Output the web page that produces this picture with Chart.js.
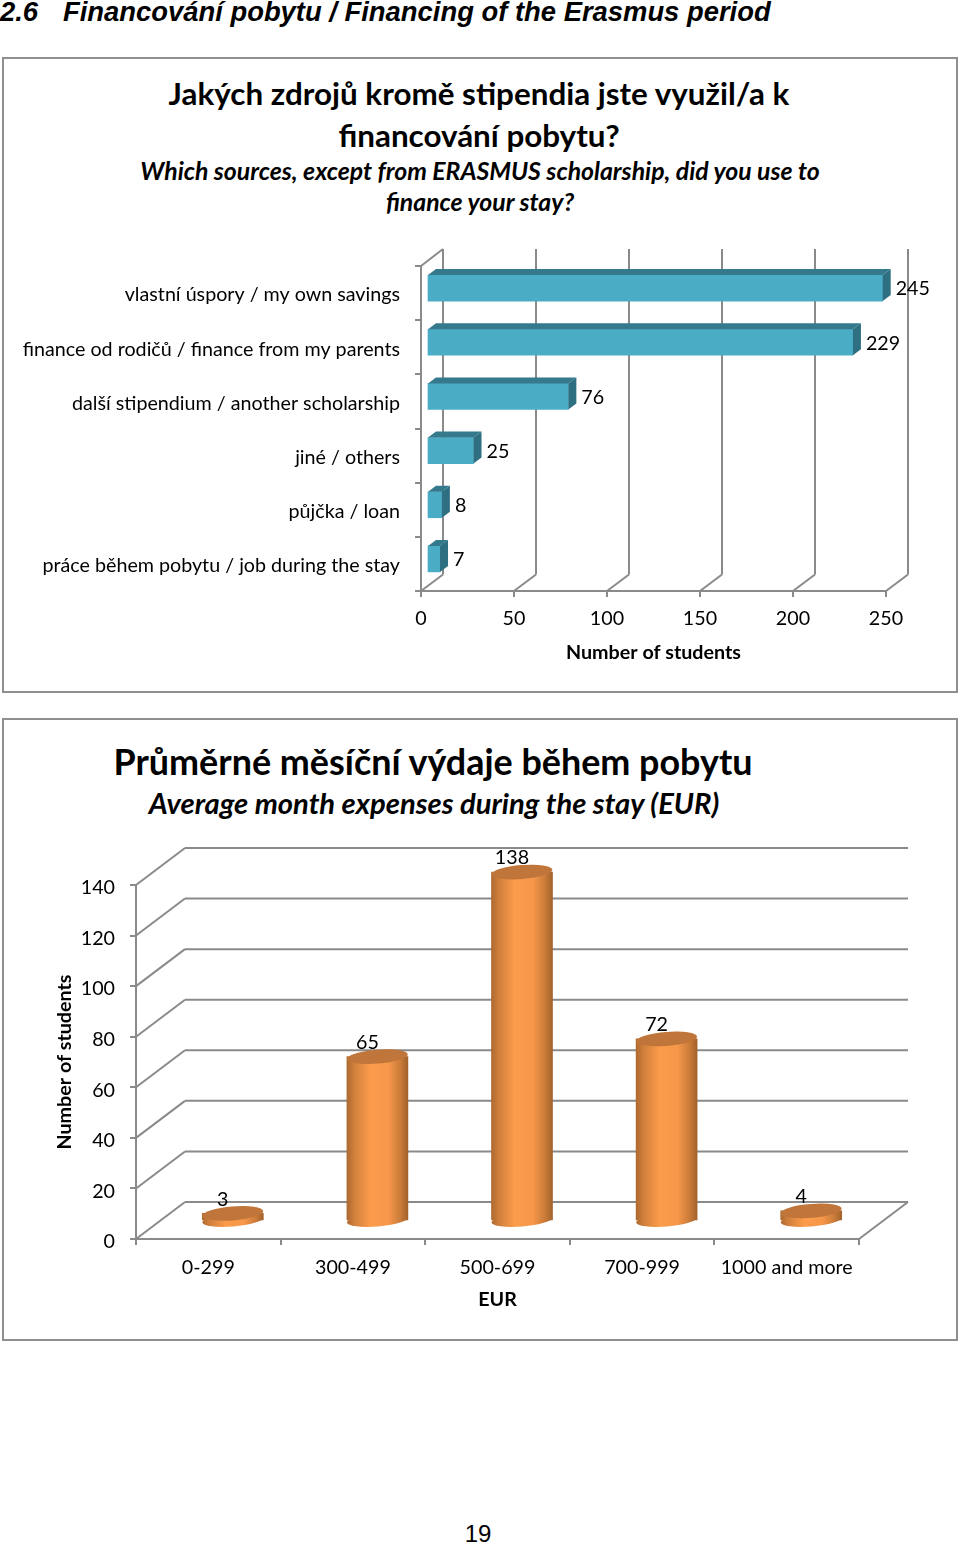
<!DOCTYPE html>
<html><head><meta charset="utf-8">
<script src="https://cdn.jsdelivr.net/npm/chart.js@4"></script>
<style>
html,body{margin:0;padding:0;background:#fff;}
body{position:relative;width:960px;height:1543px;overflow:hidden;color:#000;}
.t{position:absolute;white-space:nowrap;line-height:1;transform:translate(-50%,-50%);font-family:Lato,sans-serif;font-weight:700;}
.box{position:absolute;left:2px;width:952px;border:2px solid #8f8f8f;}
canvas{position:absolute;left:0;}
</style></head><body>
<div class="t" style="left:0;top:12px;transform:translate(0,-50%);font:italic 700 27.4px 'Liberation Sans',Arial,sans-serif;">2.6</div>
<div class="t" style="left:63px;top:12px;transform:translate(0,-50%);font:italic 700 27.4px 'Liberation Sans',Arial,sans-serif;">Financování pobytu / Financing of the Erasmus period</div>
<div class="box" style="top:57px;height:632px;"></div>
<div class="box" style="top:718px;height:619px;"></div>
<div class="t" style="left:479px;top:94px;font-size:31.4px;">Jakých zdrojů kromě stipendia jste využil/a k</div>
<div class="t" style="left:479px;top:136px;font-size:31.4px;">financování pobytu?</div>
<div class="t" style="left:480px;top:171px;font-size:24.8px;font-style:italic;">Which sources, except from ERASMUS scholarship, did you use to</div>
<div class="t" style="left:480px;top:202px;font-size:24.8px;font-style:italic;">finance your stay?</div>
<div class="t" style="left:433px;top:762px;font-size:35.9px;">Průměrné měsíční výdaje během pobytu</div>
<div class="t" style="left:434px;top:803px;font-size:29.2px;font-style:italic;">Average month expenses during the stay (EUR)</div>
<div class="t" style="left:478px;top:1534px;font:400 24px 'Liberation Sans',Arial,sans-serif;">19</div>
<canvas id="c1" width="960" height="636" style="top:57px"></canvas>
<canvas id="c2" width="960" height="623" style="top:718px"></canvas>
<script>
const sourceLabels = ['vlastní úspory / my own savings','finance od rodičů / finance from my parents','další stipendium / another scholarship','jiné / others','půjčka / loan','práce během pobytu / job during the stay'];
const sourceValues = [245,229,76,25,8,7];
const expenseLabels = ['0-299','300-499','500-699','700-999','1000 and more'];
const expenseValues = [3,65,138,72,4];
const xTitle1 = 'Number of students';
const yTitle2 = 'Number of students';
const xTitle2 = 'EUR';

const GRID='#8a8a8a', FONT='Lato, sans-serif', FS=19.7;
const base={animation:false,responsive:false,maintainAspectRatio:false,
  plugins:{legend:{display:false},tooltip:{enabled:false}}};
function axisCommon(pad){return {
  grid:{drawOnChartArea:false,drawTicks:true,tickLength:6,color:GRID,lineWidth:2},
  border:{color:GRID,width:2},
  ticks:{color:'#000',font:{family:FONT,size:FS},padding:pad,maxRotation:0,minRotation:0,autoSkip:false}
};}
function line(c,x1,y1,x2,y2){c.beginPath();c.moveTo(x1,y1);c.lineTo(x2,y2);c.stroke();}
function poly(c,color,pts){c.fillStyle=color;c.beginPath();pts.forEach((p,i)=>i?c.lineTo(p[0],p[1]):c.moveTo(p[0],p[1]));c.closePath();c.fill();}
// nudge a scale's tick labels down a little (Lato sits higher than the reference's face)
function nudgeLabels(s,dy){
  if(s._nudged)return; s._nudged=true;
  const d=s.drawLabels;
  s.drawLabels=function(area){const c=this.ctx;c.save();c.translate(0,dy);d.call(this,area);c.restore();};
}

// ---- horizontal 3D bars ----
const D1={wx:22,wy:-16.5,tx:6,ty:-5,bx:8,by:-6,th:26};
const bars3d={id:'bars3d',
  beforeDatasetsDraw(ch){
    const c=ch.ctx,a=ch.chartArea,x=ch.scales.x;
    c.save();c.strokeStyle=GRID;c.lineWidth=2;
    x.ticks.forEach(t=>{const p=x.getPixelForValue(t.value);
      line(c,p,a.bottom,p+D1.wx,a.bottom+D1.wy);
      line(c,p+D1.wx,a.bottom+D1.wy,p+D1.wx,a.top-17);
    });
    line(c,a.left,a.top,a.left+D1.wx,a.top-17);
    c.restore();
    c.save();c.translate(D1.tx,D1.ty);
  },
  afterDatasetsDraw(ch){
    const c=ch.ctx,els=ch.getDatasetMeta(0).data;
    const h=D1.th/2,dark='#35798c',dark2='#2f6f82';
    els.forEach(e=>{
      poly(c,dark,[[e.base,e.y-h],[e.x,e.y-h],[e.x+D1.bx,e.y-h+D1.by],[e.base+D1.bx,e.y-h+D1.by]]);
      poly(c,dark2,[[e.x,e.y-h],[e.x+D1.bx,e.y-h+D1.by],[e.x+D1.bx,e.y+h+D1.by],[e.x,e.y+h]]);
    });
    c.restore();
    c.save();c.fillStyle='#000';c.font=FS+'px '+FONT;c.textBaseline='middle';c.textAlign='left';
    els.forEach((e,i)=>c.fillText(String(sourceValues[i]),e.x+D1.tx+13,e.y+D1.ty+1));
    c.restore();
  }};
new Chart(document.getElementById('c1'),{type:'bar',
  data:{labels:sourceLabels,datasets:[{data:sourceValues,backgroundColor:'#4bacc6',barThickness:D1.th,clip:false}]},
  options:Object.assign({},base,{indexAxis:'y',
    layout:{padding:{left:0,right:74,top:209,bottom:0}},
    scales:{
      x:Object.assign(axisCommon(10),{min:0,max:250,afterFit(s){s.height=102;},
        ticks:Object.assign(axisCommon(10).ticks,{stepSize:50}),
        title:{display:true,text:xTitle1,color:'#000',font:{family:FONT,size:FS,weight:'bold',lineHeight:1.2},padding:{top:0,bottom:29}}}),
      y:Object.assign(axisCommon(15),{afterFit(s){s.width=421;nudgeLabels(s,2);}})
    }}),
  plugins:[bars3d]});

// ---- 3D cylinders ----
const D2={wx:49,wy:-37,tx:24.5,ty:-18,w:61,ry:7,tilt:-0.08};
function cylGrad(c,cx){
  const r=D2.w/2,g=c.createLinearGradient(cx-r,0,cx+r,0);
  g.addColorStop(0,'#ad6a30');g.addColorStop(.12,'#d07f3b');g.addColorStop(.38,'#fb9b4b');
  g.addColorStop(.68,'#f7974a');g.addColorStop(.88,'#c97b39');g.addColorStop(1,'#a3622b');
  return g;
}
const cyl3d={id:'cyl3d',
  beforeDatasetsDraw(ch){
    const c=ch.ctx,a=ch.chartArea,y=ch.scales.y;
    c.save();c.strokeStyle=GRID;c.lineWidth=2;
    y.ticks.forEach(t=>{const p=y.getPixelForValue(t.value);
      line(c,a.left,p,a.left+D2.wx,p+D2.wy);
      line(c,a.left+D2.wx,p+D2.wy,a.right+D2.wx,p+D2.wy);
    });
    line(c,a.right,a.bottom,a.right+D2.wx,a.bottom+D2.wy);
    c.restore();
    c.save();c.translate(D2.tx,D2.ty);
    // bottom ellipses sit under the library's bars
    const els=ch.getDatasetMeta(0).data;
    els.forEach(e=>{c.fillStyle=cylGrad(c,e.x);c.beginPath();c.ellipse(e.x,e.base,D2.w/2,D2.ry-.5,D2.tilt,0,Math.PI*2);c.fill();});
  },
  afterDatasetsDraw(ch){
    const c=ch.ctx,els=ch.getDatasetMeta(0).data;
    els.forEach(e=>{c.fillStyle='#c0763a';c.beginPath();c.ellipse(e.x,e.y,D2.w/2,D2.ry,D2.tilt,0,Math.PI*2);c.fill();});
    c.restore();
    c.save();c.fillStyle='#000';c.font=FS+'px '+FONT;c.textBaseline='middle';c.textAlign='center';
    els.forEach((e,i)=>c.fillText(String(expenseValues[i]),e.x+14.5,e.y+D2.ty-14));
    c.restore();
  }};
new Chart(document.getElementById('c2'),{type:'bar',
  data:{labels:expenseLabels,datasets:[{data:expenseValues,barThickness:D2.w,clip:false,
    backgroundColor(ctx){
      const s=ctx.chart.scales.x,px=s?s.getPixelForValue(ctx.dataIndex):NaN;
      return Number.isFinite(px)?cylGrad(ctx.chart.ctx,px):'#f79646';
    }}]},
  options:Object.assign({},base,{
    layout:{padding:{left:0,right:101,top:167,bottom:0}},
    scales:{
      x:Object.assign(axisCommon(11),{afterFit(s){s.height=102;},
        title:{display:true,text:xTitle2,color:'#000',font:{family:FONT,size:FS,weight:'bold',lineHeight:1.2},padding:{top:0,bottom:30}}}),
      y:Object.assign(axisCommon(15),{min:0,max:140,afterFit(s){s.width=136;nudgeLabels(s,3);},
        ticks:Object.assign(axisCommon(15).ticks,{stepSize:20}),
        title:{display:true,text:yTitle2,color:'#000',font:{family:FONT,size:FS,weight:'bold',lineHeight:1.2},padding:{top:53,bottom:0}}})
    }}),
  plugins:[cyl3d]});
</script>
</body></html>
